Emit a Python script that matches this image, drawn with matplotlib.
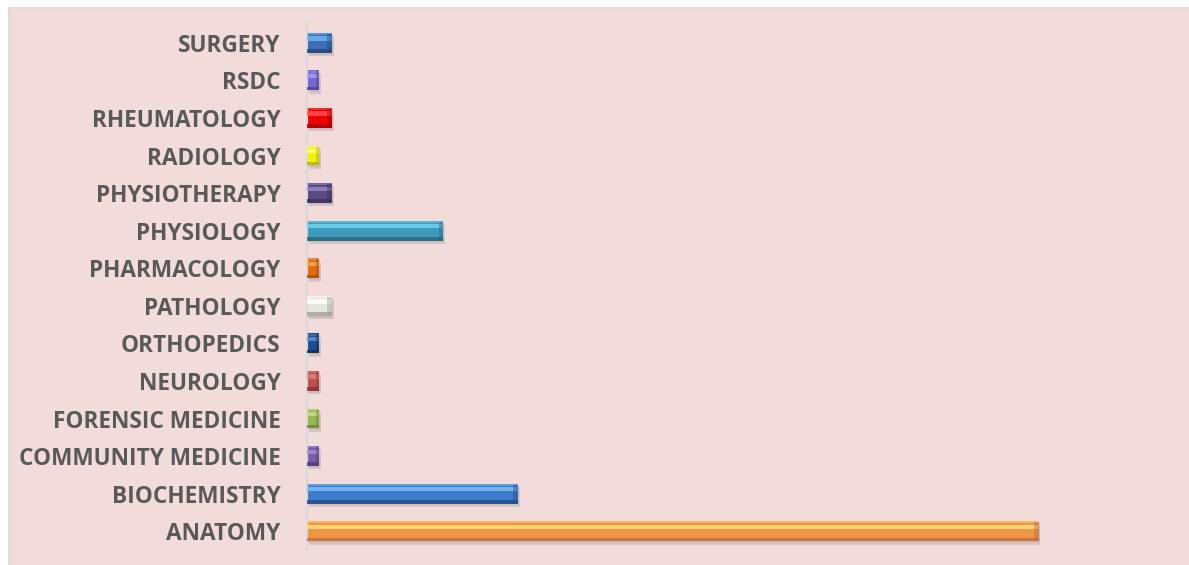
import matplotlib
matplotlib.use("Agg")
import matplotlib.pyplot as plt
from matplotlib.patches import Rectangle
import numpy as np

categories = ["ANATOMY", "BIOCHEMISTRY", "COMMUNITY MEDICINE", "FORENSIC MEDICINE",
              "NEUROLOGY", "ORTHOPEDICS", "PATHOLOGY", "PHARMACOLOGY", "PHYSIOLOGY",
              "PHYSIOTHERAPY", "RADIOLOGY", "RHEUMATOLOGY", "RSDC", "SURGERY"]
values = [59, 17, 1, 1, 1, 1, 2, 1, 11, 2, 1, 2, 1, 2]
base_colors = ["#F0944A", "#3E7CCB", "#7A5FA8", "#93BA52", "#C0504D", "#1F4E8C",
               "#E6E6DE", "#E36C09", "#3E9AB8", "#5A4A85", "#F2F200", "#F00000",
               "#7468D2", "#3B70B5"]
light_colors = ["#FFE07A", "#7FBFF5", "#A78DD0", "#C2DE85", "#E07F7C", "#5A8FD0",
                "#FFFFFF", "#F9A850", "#72D2EE", "#9A88C2", "#FFFF80", "#FF5050",
                "#A59EEE", "#6FB3F2"]
dark_colors = ["#B8713A", "#1F4C85", "#4F3D73", "#6A8A35", "#8C3431", "#112E57",
               "#A0A098", "#A44E06", "#24677D", "#3A2F5A", "#B0B000", "#A80000",
               "#4A42A0", "#24497C"]

fig = plt.figure(figsize=(11.89, 5.65), dpi=100)
fig.patch.set_facecolor("white")
# pink chart area with thin gray border on left/top
fig.add_artist(Rectangle((9 / 1189, -0.05), 1.1, 1.05 - 8 / 565,
                         transform=fig.transFigure, facecolor="#F2DCDB",
                         edgecolor="#D9D9D9", linewidth=1.2, zorder=0))

ax = fig.add_axes([307 / 1189, 15 / 565, 868 / 1189, 526 / 565])
ax.set_facecolor("none")
y = np.arange(len(categories))
h = 0.53

# shadow
ax.barh(y - 0.09, values, left=0.15, height=h, color="#000000", alpha=0.10, zorder=1)
ax.barh(y - 0.05, values, left=0.08, height=h, color="#000000", alpha=0.06, zorder=1)
# base
ax.barh(y, values, height=h, color=base_colors, zorder=2)
# top highlight
ax.barh(y + h * 0.22, values, height=h * 0.22, color=light_colors, alpha=0.85, zorder=3)
ax.barh(y + h * 0.44, values, height=h * 0.1, color=light_colors, alpha=0.5, zorder=3)
# bottom shade
ax.barh(y - h * 0.41, values, height=h * 0.18, color=dark_colors, alpha=0.8, zorder=3)
# right bevel edge
vals = np.array(values, dtype=float)
ax.barh(y, np.minimum(0.35, vals * 0.3), left=vals - np.minimum(0.35, vals * 0.3),
        height=h * 0.9, color=dark_colors, alpha=0.45, zorder=4)

ax.set_xlim(0, 70)
ax.set_ylim(-0.5, len(categories) - 0.5)
ax.set_yticks(y)
ax.set_yticklabels(categories, fontsize=16.3, fontweight="bold", color="#595959",
                   family=["Open Sans", "DejaVu Sans"])
ax.tick_params(axis="y", length=0, pad=19)
ax.set_xticks([])
for s in ["top", "right", "bottom"]:
    ax.spines[s].set_visible(False)
ax.spines["left"].set_color("#D9D9D9")
ax.spines["left"].set_linewidth(1.5)

fig.savefig("out.png", dpi=100)
